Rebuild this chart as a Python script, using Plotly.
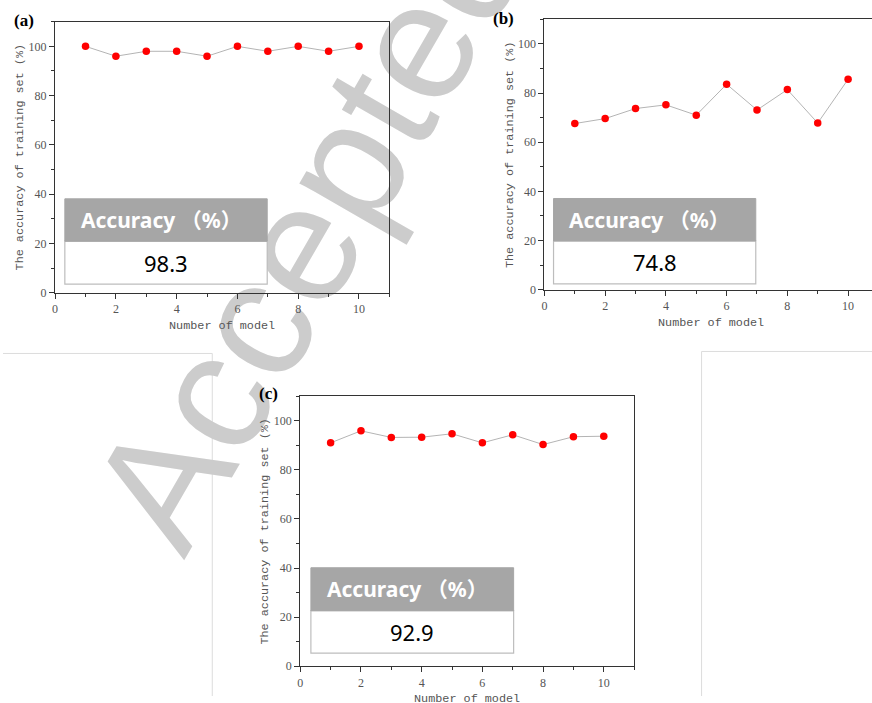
import plotly.graph_objects as go

# ---------------- data ----------------
models = [1, 2, 3, 4, 5, 6, 7, 8, 9, 10]
acc_a = [100, 96, 98, 98, 96, 100, 98, 100, 98, 100]
acc_b = [67.6, 69.6, 73.7, 75.2, 71.0, 83.6, 73.1, 81.4, 67.8, 85.6]
acc_c = [91.0, 95.9, 93.2, 93.3, 94.7, 91.0, 94.3, 90.3, 93.5, 93.7]
summary_acc = ["98.3", "74.8", "92.9"]
panel_labels = ["(a)", "(b)", "(c)"]
x_ticks = [0, 2, 4, 6, 8, 10]
y_ticks = [0, 20, 40, 60, 80, 100]
x_title = "Number of model"
y_title = "The accuracy of training set (%)"
box_header = "Accuracy （%）"

W, H = 872, 703
YS = 711 / 703  # vertical correction for the capture

def px_x(p):
    return p / W

def px_y(p):
    return 1 - p * YS / H

fig = go.Figure()

series = [acc_a, acc_b, acc_c]
suffix = ["", "2", "3"]
for s, ys in zip(suffix, series):
    fig.add_trace(go.Scatter(
        x=models, y=ys, mode="lines+markers",
        line=dict(color="#b4b4b4", width=1),
        marker=dict(color="#ff0000", size=7.5),
        xaxis="x" + s, yaxis="y" + s, showlegend=False,
        cliponaxis=False, hoverinfo="skip",
    ))

axis_col = "#333333"
tickfont = dict(family="Liberation Serif", size=12, color="#555555")

# panel geometry in pixels: left, right, top, bottom, x-range max
panels = [
    (52.3, 387.7, 21.7, 292.3, 11.0, True),
    (543.3, 872.0, 19.3, 289.3, (872 - 543.3) / 30.47, False),
    (298.3, 633.3, 395.7, 665.3, 11.0, True),
]

layout = dict(width=W, height=H, autosize=False,
              margin=dict(l=0, r=0, t=0, b=0),
              paper_bgcolor="white", plot_bgcolor="rgba(0,0,0,0)",
              showlegend=False, hovermode=False)

for i, (l, r, t, b, xmax, right_line) in enumerate(panels):
    s = suffix[i]
    xa = dict(domain=[px_x(l), px_x(r)], range=[0, xmax], anchor="y" + s,
              showgrid=False, zeroline=False, showline=True,
              linecolor=axis_col, linewidth=1.2, mirror=True,
              ticks="outside", ticklen=5, tickwidth=1.2, tickcolor=axis_col,
              tickvals=x_ticks, tickfont=tickfont,
              minor=dict(dtick=1, tick0=0, ticks="outside", ticklen=3,
                         tickwidth=1, tickcolor=axis_col, showgrid=False))
    ya = dict(domain=[px_y(b), px_y(t)], range=[0, 110], anchor="x" + s,
              showgrid=False, zeroline=False, showline=True,
              linecolor=axis_col, linewidth=1.2, mirror=right_line,
              ticks="outside", ticklen=5, tickwidth=1.2, tickcolor=axis_col,
              tickvals=y_ticks, tickfont=tickfont,
              minor=dict(dtick=10, tick0=0, ticks="outside", ticklen=3,
                         tickwidth=1, tickcolor=axis_col, showgrid=False))
    layout["xaxis" + s] = xa
    layout["yaxis" + s] = ya

fig.update_layout(**layout)

annotations = []
shapes = []

title_font = dict(family="Liberation Mono", size=11.8, color="#555555")
# axis titles
for i, (l, r, t, b, xmax, right_line) in enumerate(panels):
    s = suffix[i]
    annotations.append(dict(text=x_title, xref="x" + s, yref="paper",
                            x=5.5, y=px_y(b + 33), showarrow=False,
                            font=title_font, xanchor="center", yanchor="middle"))
    annotations.append(dict(text=y_title, xref="paper", yref="paper",
                            x=px_x(l - 35), y=px_y((t + b) / 2), showarrow=False,
                            textangle=-90, font=title_font,
                            xanchor="center", yanchor="middle"))

# panel labels
label_pos = [(21, 20), (502.5, 18), (266.5, 392.5)]
for lab, (lx, ly) in zip(panel_labels, label_pos):
    annotations.append(dict(text="<b>" + lab + "</b>", xref="paper", yref="paper",
                            x=px_x(lx), y=px_y(ly), showarrow=False,
                            font=dict(family="Liberation Serif", size=17, color="black"),
                            xanchor="center", yanchor="middle"))

# summary boxes: x0, x1, y_bottom, y_mid, y_top (axis units, placement only)
boxes = [
    (0.32, 6.98, 3.5, 20.9, 38.1),
    (0.30, 6.96, 2.4, 19.8, 37.1),
    (0.35, 7.03, 5.3, 22.6, 40.1),
]
for i, (x0, x1, yb, ym, yt) in enumerate(boxes):
    s = suffix[i]
    shapes.append(dict(type="rect", xref="x" + s, yref="y" + s,
                       x0=x0, x1=x1, y0=yb, y1=ym, fillcolor="white",
                       line=dict(color="#bdbdbd", width=1.2)))
    shapes.append(dict(type="rect", xref="x" + s, yref="y" + s,
                       x0=x0, x1=x1, y0=ym, y1=yt, fillcolor="#a6a6a6",
                       line=dict(color="#a6a6a6", width=1)))
    annotations.append(dict(text="<b>" + box_header + "</b>", xref="x" + s, yref="y" + s,
                            x=x0 + 0.45, y=(ym + yt) / 2, showarrow=False,
                            font=dict(family="Noto Sans, Noto Sans CJK SC", size=21, color="white"),
                            xanchor="left", yanchor="middle"))
    annotations.append(dict(text=summary_acc[i], xref="x" + s, yref="y" + s,
                            x=(x0 + x1) / 2, y=(yb + ym) / 2, showarrow=False,
                            font=dict(family="Noto Sans", size=22, color="black"),
                            xanchor="center", yanchor="middle"))

# page fragment borders
border_col = "#dcdcdc"
shapes += [
    dict(type="line", xref="paper", yref="paper", x0=0, x1=px_x(210), y0=px_y(353), y1=px_y(353),
         line=dict(color=border_col, width=1), layer="below"),
    dict(type="line", xref="paper", yref="paper", x0=px_x(210), x1=px_x(210), y0=px_y(353), y1=0,
         line=dict(color=border_col, width=1), layer="below"),
    dict(type="line", xref="paper", yref="paper", x0=px_x(701), x1=1, y0=px_y(351), y1=px_y(351),
         line=dict(color=border_col, width=1), layer="below"),
    dict(type="line", xref="paper", yref="paper", x0=px_x(701), x1=px_x(701), y0=px_y(351), y1=0,
         line=dict(color=border_col, width=1), layer="below"),
]

# watermark
wx, wy = 293, 220
shapes.append(dict(type="rect", xref="paper", yref="paper",
                   x0=px_x(wx - 5), x1=px_x(wx + 5), y0=px_y(wy + 5), y1=px_y(wy - 5),
                   line=dict(width=0), fillcolor="rgba(0,0,0,0)", layer="below",
                   label=dict(text="Accepted", textangle=-60, textposition="middle center",
                              font=dict(family="Liberation Sans", size=168, color="#cccccc"))))

fig.update_layout(annotations=annotations, shapes=shapes)

fig.write_html("out.html",
               config={"displayModeBar": False},
               post_script="document.body.style.margin='0';document.body.style.padding='0';"
                           "document.body.style.overflow='hidden';")
